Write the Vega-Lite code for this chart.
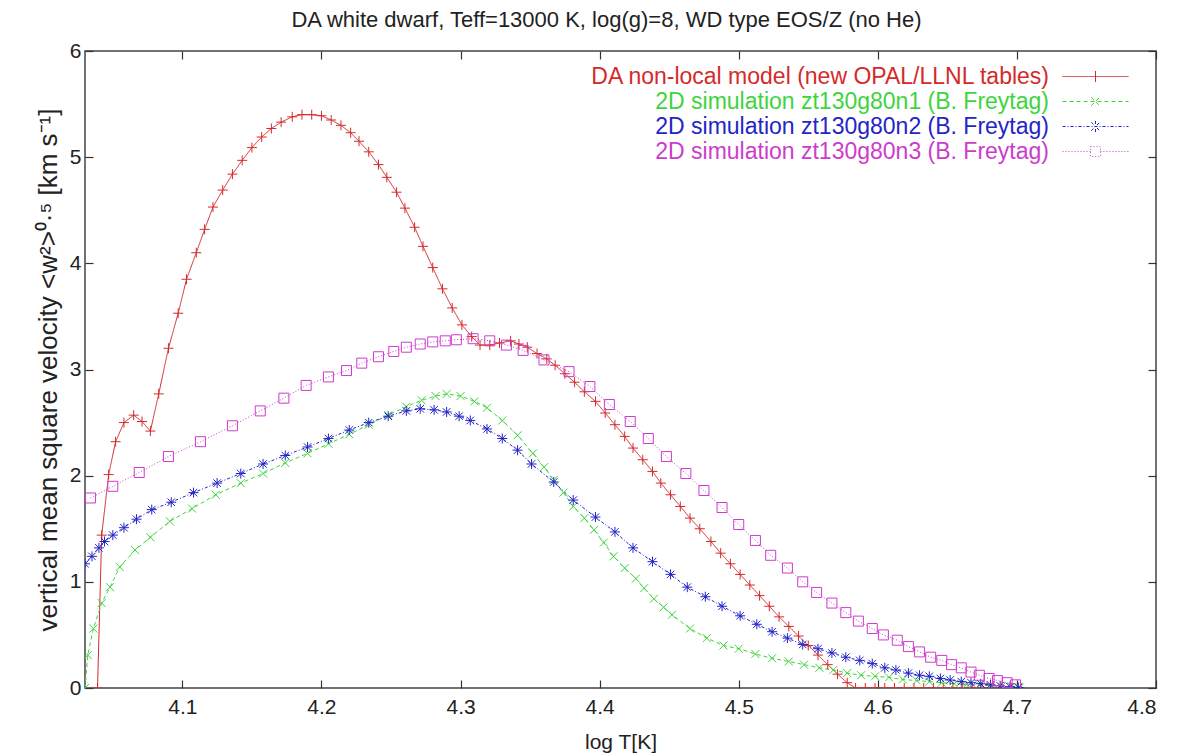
{
  "$schema": "https://vega.github.io/schema/vega-lite/v6.json",
  "width": 1071,
  "height": 637,
  "autosize": {"type": "none"},
  "padding": {"left": 85, "top": 51, "right": 26, "bottom": 68},
  "background": "white",
  "title": {
    "text": "DA white dwarf, Teff=13000 K, log(g)=8, WD type EOS/Z (no He)",
    "anchor": "middle",
    "frame": "group",
    "dx": -14,
    "baseline": "alphabetic",
    "offset": -9,
    "font": "Liberation Sans",
    "fontSize": 22,
    "fontWeight": "normal",
    "color": "#222"
  },
  "config": {
    "view": {"stroke": "#444", "strokeWidth": 1.5},
    "axis": {"grid": false, "domain": false, "labelFont": "Liberation Sans", "labelFontSize": 21, "labelColor": "#222", "titleFont": "Liberation Sans", "titleFontSize": 21, "titleFontWeight": "normal", "titleColor": "#222", "tickColor": "#333", "tickWidth": 1.2},
    "legend": {"labelFont": "Liberation Sans", "labelFontSize": 23}
  },
  "datasets": {
    "curves": [
      {"series": "DA non-local model (new OPAL/LLNL tables)", "x": 4.039, "y": 0},
      {"series": "DA non-local model (new OPAL/LLNL tables)", "x": 4.042, "y": 1.44},
      {"series": "DA non-local model (new OPAL/LLNL tables)", "x": 4.047, "y": 2.01},
      {"series": "DA non-local model (new OPAL/LLNL tables)", "x": 4.052, "y": 2.32},
      {"series": "DA non-local model (new OPAL/LLNL tables)", "x": 4.058, "y": 2.5},
      {"series": "DA non-local model (new OPAL/LLNL tables)", "x": 4.065, "y": 2.57},
      {"series": "DA non-local model (new OPAL/LLNL tables)", "x": 4.071, "y": 2.51},
      {"series": "DA non-local model (new OPAL/LLNL tables)", "x": 4.077, "y": 2.42},
      {"series": "DA non-local model (new OPAL/LLNL tables)", "x": 4.083, "y": 2.77},
      {"series": "DA non-local model (new OPAL/LLNL tables)", "x": 4.09, "y": 3.2},
      {"series": "DA non-local model (new OPAL/LLNL tables)", "x": 4.097, "y": 3.53},
      {"series": "DA non-local model (new OPAL/LLNL tables)", "x": 4.103, "y": 3.85},
      {"series": "DA non-local model (new OPAL/LLNL tables)", "x": 4.11, "y": 4.1},
      {"series": "DA non-local model (new OPAL/LLNL tables)", "x": 4.116, "y": 4.32},
      {"series": "DA non-local model (new OPAL/LLNL tables)", "x": 4.122, "y": 4.53},
      {"series": "DA non-local model (new OPAL/LLNL tables)", "x": 4.129, "y": 4.69},
      {"series": "DA non-local model (new OPAL/LLNL tables)", "x": 4.136, "y": 4.84},
      {"series": "DA non-local model (new OPAL/LLNL tables)", "x": 4.143, "y": 4.97},
      {"series": "DA non-local model (new OPAL/LLNL tables)", "x": 4.15, "y": 5.09},
      {"series": "DA non-local model (new OPAL/LLNL tables)", "x": 4.157, "y": 5.19},
      {"series": "DA non-local model (new OPAL/LLNL tables)", "x": 4.164, "y": 5.27},
      {"series": "DA non-local model (new OPAL/LLNL tables)", "x": 4.171, "y": 5.33},
      {"series": "DA non-local model (new OPAL/LLNL tables)", "x": 4.179, "y": 5.38},
      {"series": "DA non-local model (new OPAL/LLNL tables)", "x": 4.186, "y": 5.4},
      {"series": "DA non-local model (new OPAL/LLNL tables)", "x": 4.193, "y": 5.4},
      {"series": "DA non-local model (new OPAL/LLNL tables)", "x": 4.2, "y": 5.39},
      {"series": "DA non-local model (new OPAL/LLNL tables)", "x": 4.207, "y": 5.35},
      {"series": "DA non-local model (new OPAL/LLNL tables)", "x": 4.214, "y": 5.3},
      {"series": "DA non-local model (new OPAL/LLNL tables)", "x": 4.221, "y": 5.23},
      {"series": "DA non-local model (new OPAL/LLNL tables)", "x": 4.227, "y": 5.15},
      {"series": "DA non-local model (new OPAL/LLNL tables)", "x": 4.234, "y": 5.05},
      {"series": "DA non-local model (new OPAL/LLNL tables)", "x": 4.241, "y": 4.93},
      {"series": "DA non-local model (new OPAL/LLNL tables)", "x": 4.247, "y": 4.81},
      {"series": "DA non-local model (new OPAL/LLNL tables)", "x": 4.254, "y": 4.67},
      {"series": "DA non-local model (new OPAL/LLNL tables)", "x": 4.26, "y": 4.52},
      {"series": "DA non-local model (new OPAL/LLNL tables)", "x": 4.267, "y": 4.34},
      {"series": "DA non-local model (new OPAL/LLNL tables)", "x": 4.273, "y": 4.16},
      {"series": "DA non-local model (new OPAL/LLNL tables)", "x": 4.28, "y": 3.96},
      {"series": "DA non-local model (new OPAL/LLNL tables)", "x": 4.287, "y": 3.76},
      {"series": "DA non-local model (new OPAL/LLNL tables)", "x": 4.294, "y": 3.58},
      {"series": "DA non-local model (new OPAL/LLNL tables)", "x": 4.301, "y": 3.42},
      {"series": "DA non-local model (new OPAL/LLNL tables)", "x": 4.308, "y": 3.31},
      {"series": "DA non-local model (new OPAL/LLNL tables)", "x": 4.314, "y": 3.23},
      {"series": "DA non-local model (new OPAL/LLNL tables)", "x": 4.321, "y": 3.23},
      {"series": "DA non-local model (new OPAL/LLNL tables)", "x": 4.328, "y": 3.25},
      {"series": "DA non-local model (new OPAL/LLNL tables)", "x": 4.336, "y": 3.27},
      {"series": "DA non-local model (new OPAL/LLNL tables)", "x": 4.342, "y": 3.24},
      {"series": "DA non-local model (new OPAL/LLNL tables)", "x": 4.348, "y": 3.21},
      {"series": "DA non-local model (new OPAL/LLNL tables)", "x": 4.355, "y": 3.15},
      {"series": "DA non-local model (new OPAL/LLNL tables)", "x": 4.362, "y": 3.1},
      {"series": "DA non-local model (new OPAL/LLNL tables)", "x": 4.368, "y": 3.04},
      {"series": "DA non-local model (new OPAL/LLNL tables)", "x": 4.375, "y": 2.96},
      {"series": "DA non-local model (new OPAL/LLNL tables)", "x": 4.382, "y": 2.88},
      {"series": "DA non-local model (new OPAL/LLNL tables)", "x": 4.389, "y": 2.79},
      {"series": "DA non-local model (new OPAL/LLNL tables)", "x": 4.397, "y": 2.7},
      {"series": "DA non-local model (new OPAL/LLNL tables)", "x": 4.404, "y": 2.59},
      {"series": "DA non-local model (new OPAL/LLNL tables)", "x": 4.411, "y": 2.48},
      {"series": "DA non-local model (new OPAL/LLNL tables)", "x": 4.418, "y": 2.37},
      {"series": "DA non-local model (new OPAL/LLNL tables)", "x": 4.424, "y": 2.26},
      {"series": "DA non-local model (new OPAL/LLNL tables)", "x": 4.431, "y": 2.15},
      {"series": "DA non-local model (new OPAL/LLNL tables)", "x": 4.438, "y": 2.04},
      {"series": "DA non-local model (new OPAL/LLNL tables)", "x": 4.444, "y": 1.93},
      {"series": "DA non-local model (new OPAL/LLNL tables)", "x": 4.451, "y": 1.82},
      {"series": "DA non-local model (new OPAL/LLNL tables)", "x": 4.458, "y": 1.71},
      {"series": "DA non-local model (new OPAL/LLNL tables)", "x": 4.465, "y": 1.6},
      {"series": "DA non-local model (new OPAL/LLNL tables)", "x": 4.472, "y": 1.5},
      {"series": "DA non-local model (new OPAL/LLNL tables)", "x": 4.48, "y": 1.38},
      {"series": "DA non-local model (new OPAL/LLNL tables)", "x": 4.487, "y": 1.27},
      {"series": "DA non-local model (new OPAL/LLNL tables)", "x": 4.494, "y": 1.17},
      {"series": "DA non-local model (new OPAL/LLNL tables)", "x": 4.501, "y": 1.07},
      {"series": "DA non-local model (new OPAL/LLNL tables)", "x": 4.508, "y": 0.97},
      {"series": "DA non-local model (new OPAL/LLNL tables)", "x": 4.515, "y": 0.87},
      {"series": "DA non-local model (new OPAL/LLNL tables)", "x": 4.522, "y": 0.77},
      {"series": "DA non-local model (new OPAL/LLNL tables)", "x": 4.529, "y": 0.67},
      {"series": "DA non-local model (new OPAL/LLNL tables)", "x": 4.536, "y": 0.58},
      {"series": "DA non-local model (new OPAL/LLNL tables)", "x": 4.543, "y": 0.49},
      {"series": "DA non-local model (new OPAL/LLNL tables)", "x": 4.55, "y": 0.4},
      {"series": "DA non-local model (new OPAL/LLNL tables)", "x": 4.557, "y": 0.31},
      {"series": "DA non-local model (new OPAL/LLNL tables)", "x": 4.564, "y": 0.22},
      {"series": "DA non-local model (new OPAL/LLNL tables)", "x": 4.571, "y": 0.13},
      {"series": "DA non-local model (new OPAL/LLNL tables)", "x": 4.578, "y": 0.05},
      {"series": "DA non-local model (new OPAL/LLNL tables)", "x": 4.584, "y": 0.0},
      {"series": "DA non-local model (new OPAL/LLNL tables)", "x": 4.591, "y": 0.0},
      {"series": "DA non-local model (new OPAL/LLNL tables)", "x": 4.598, "y": 0.0},
      {"series": "DA non-local model (new OPAL/LLNL tables)", "x": 4.605, "y": 0.0},
      {"series": "DA non-local model (new OPAL/LLNL tables)", "x": 4.612, "y": 0.0},
      {"series": "DA non-local model (new OPAL/LLNL tables)", "x": 4.619, "y": 0.0},
      {"series": "DA non-local model (new OPAL/LLNL tables)", "x": 4.626, "y": 0.0},
      {"series": "DA non-local model (new OPAL/LLNL tables)", "x": 4.633, "y": 0.0},
      {"series": "DA non-local model (new OPAL/LLNL tables)", "x": 4.64, "y": 0.0},
      {"series": "DA non-local model (new OPAL/LLNL tables)", "x": 4.647, "y": 0.0},
      {"series": "DA non-local model (new OPAL/LLNL tables)", "x": 4.654, "y": 0.0},
      {"series": "DA non-local model (new OPAL/LLNL tables)", "x": 4.661, "y": 0.0},
      {"series": "DA non-local model (new OPAL/LLNL tables)", "x": 4.668, "y": 0.0},
      {"series": "DA non-local model (new OPAL/LLNL tables)", "x": 4.675, "y": 0.0},
      {"series": "DA non-local model (new OPAL/LLNL tables)", "x": 4.682, "y": 0.0},
      {"series": "DA non-local model (new OPAL/LLNL tables)", "x": 4.689, "y": 0.0},
      {"series": "DA non-local model (new OPAL/LLNL tables)", "x": 4.696, "y": 0.0},
      {"series": "DA non-local model (new OPAL/LLNL tables)", "x": 4.703, "y": 0.0},

      {"series": "2D simulation zt130g80n1 (B. Freytag)", "x": 4.03, "y": 0.0},
      {"series": "2D simulation zt130g80n1 (B. Freytag)", "x": 4.032, "y": 0.31},
      {"series": "2D simulation zt130g80n1 (B. Freytag)", "x": 4.036, "y": 0.56},
      {"series": "2D simulation zt130g80n1 (B. Freytag)", "x": 4.042, "y": 0.8},
      {"series": "2D simulation zt130g80n1 (B. Freytag)", "x": 4.048, "y": 0.95},
      {"series": "2D simulation zt130g80n1 (B. Freytag)", "x": 4.055, "y": 1.14},
      {"series": "2D simulation zt130g80n1 (B. Freytag)", "x": 4.066, "y": 1.3},
      {"series": "2D simulation zt130g80n1 (B. Freytag)", "x": 4.077, "y": 1.42},
      {"series": "2D simulation zt130g80n1 (B. Freytag)", "x": 4.091, "y": 1.57},
      {"series": "2D simulation zt130g80n1 (B. Freytag)", "x": 4.107, "y": 1.69},
      {"series": "2D simulation zt130g80n1 (B. Freytag)", "x": 4.124, "y": 1.82},
      {"series": "2D simulation zt130g80n1 (B. Freytag)", "x": 4.142, "y": 1.93},
      {"series": "2D simulation zt130g80n1 (B. Freytag)", "x": 4.158, "y": 2.02},
      {"series": "2D simulation zt130g80n1 (B. Freytag)", "x": 4.174, "y": 2.12},
      {"series": "2D simulation zt130g80n1 (B. Freytag)", "x": 4.19, "y": 2.21},
      {"series": "2D simulation zt130g80n1 (B. Freytag)", "x": 4.205, "y": 2.3},
      {"series": "2D simulation zt130g80n1 (B. Freytag)", "x": 4.22, "y": 2.39},
      {"series": "2D simulation zt130g80n1 (B. Freytag)", "x": 4.234, "y": 2.48},
      {"series": "2D simulation zt130g80n1 (B. Freytag)", "x": 4.248, "y": 2.57},
      {"series": "2D simulation zt130g80n1 (B. Freytag)", "x": 4.261, "y": 2.65},
      {"series": "2D simulation zt130g80n1 (B. Freytag)", "x": 4.272, "y": 2.71},
      {"series": "2D simulation zt130g80n1 (B. Freytag)", "x": 4.282, "y": 2.75},
      {"series": "2D simulation zt130g80n1 (B. Freytag)", "x": 4.29, "y": 2.77},
      {"series": "2D simulation zt130g80n1 (B. Freytag)", "x": 4.3, "y": 2.75},
      {"series": "2D simulation zt130g80n1 (B. Freytag)", "x": 4.31, "y": 2.7},
      {"series": "2D simulation zt130g80n1 (B. Freytag)", "x": 4.319, "y": 2.64},
      {"series": "2D simulation zt130g80n1 (B. Freytag)", "x": 4.33, "y": 2.52},
      {"series": "2D simulation zt130g80n1 (B. Freytag)", "x": 4.341, "y": 2.38},
      {"series": "2D simulation zt130g80n1 (B. Freytag)", "x": 4.352, "y": 2.21},
      {"series": "2D simulation zt130g80n1 (B. Freytag)", "x": 4.36, "y": 2.08},
      {"series": "2D simulation zt130g80n1 (B. Freytag)", "x": 4.367, "y": 1.96},
      {"series": "2D simulation zt130g80n1 (B. Freytag)", "x": 4.374, "y": 1.84},
      {"series": "2D simulation zt130g80n1 (B. Freytag)", "x": 4.381, "y": 1.71},
      {"series": "2D simulation zt130g80n1 (B. Freytag)", "x": 4.389, "y": 1.6},
      {"series": "2D simulation zt130g80n1 (B. Freytag)", "x": 4.396, "y": 1.49},
      {"series": "2D simulation zt130g80n1 (B. Freytag)", "x": 4.403, "y": 1.37},
      {"series": "2D simulation zt130g80n1 (B. Freytag)", "x": 4.41, "y": 1.24},
      {"series": "2D simulation zt130g80n1 (B. Freytag)", "x": 4.418, "y": 1.13},
      {"series": "2D simulation zt130g80n1 (B. Freytag)", "x": 4.426, "y": 1.03},
      {"series": "2D simulation zt130g80n1 (B. Freytag)", "x": 4.432, "y": 0.94},
      {"series": "2D simulation zt130g80n1 (B. Freytag)", "x": 4.439, "y": 0.84},
      {"series": "2D simulation zt130g80n1 (B. Freytag)", "x": 4.446, "y": 0.76},
      {"series": "2D simulation zt130g80n1 (B. Freytag)", "x": 4.452, "y": 0.69},
      {"series": "2D simulation zt130g80n1 (B. Freytag)", "x": 4.465, "y": 0.56},
      {"series": "2D simulation zt130g80n1 (B. Freytag)", "x": 4.477, "y": 0.47},
      {"series": "2D simulation zt130g80n1 (B. Freytag)", "x": 4.489, "y": 0.4},
      {"series": "2D simulation zt130g80n1 (B. Freytag)", "x": 4.5, "y": 0.37},
      {"series": "2D simulation zt130g80n1 (B. Freytag)", "x": 4.512, "y": 0.32},
      {"series": "2D simulation zt130g80n1 (B. Freytag)", "x": 4.524, "y": 0.28},
      {"series": "2D simulation zt130g80n1 (B. Freytag)", "x": 4.536, "y": 0.25},
      {"series": "2D simulation zt130g80n1 (B. Freytag)", "x": 4.547, "y": 0.22},
      {"series": "2D simulation zt130g80n1 (B. Freytag)", "x": 4.558, "y": 0.19},
      {"series": "2D simulation zt130g80n1 (B. Freytag)", "x": 4.568, "y": 0.17},
      {"series": "2D simulation zt130g80n1 (B. Freytag)", "x": 4.578, "y": 0.14},
      {"series": "2D simulation zt130g80n1 (B. Freytag)", "x": 4.588, "y": 0.12},
      {"series": "2D simulation zt130g80n1 (B. Freytag)", "x": 4.598, "y": 0.11},
      {"series": "2D simulation zt130g80n1 (B. Freytag)", "x": 4.608, "y": 0.1},
      {"series": "2D simulation zt130g80n1 (B. Freytag)", "x": 4.618, "y": 0.08},
      {"series": "2D simulation zt130g80n1 (B. Freytag)", "x": 4.628, "y": 0.07},
      {"series": "2D simulation zt130g80n1 (B. Freytag)", "x": 4.637, "y": 0.06},
      {"series": "2D simulation zt130g80n1 (B. Freytag)", "x": 4.646, "y": 0.05},
      {"series": "2D simulation zt130g80n1 (B. Freytag)", "x": 4.655, "y": 0.04},
      {"series": "2D simulation zt130g80n1 (B. Freytag)", "x": 4.664, "y": 0.035},
      {"series": "2D simulation zt130g80n1 (B. Freytag)", "x": 4.673, "y": 0.03},
      {"series": "2D simulation zt130g80n1 (B. Freytag)", "x": 4.681, "y": 0.02},
      {"series": "2D simulation zt130g80n1 (B. Freytag)", "x": 4.689, "y": 0.015},
      {"series": "2D simulation zt130g80n1 (B. Freytag)", "x": 4.696, "y": 0.01},
      {"series": "2D simulation zt130g80n1 (B. Freytag)", "x": 4.702, "y": 0.005},

      {"series": "2D simulation zt130g80n2 (B. Freytag)", "x": 4.03, "y": 1.17},
      {"series": "2D simulation zt130g80n2 (B. Freytag)", "x": 4.035, "y": 1.24},
      {"series": "2D simulation zt130g80n2 (B. Freytag)", "x": 4.04, "y": 1.32},
      {"series": "2D simulation zt130g80n2 (B. Freytag)", "x": 4.044, "y": 1.38},
      {"series": "2D simulation zt130g80n2 (B. Freytag)", "x": 4.05, "y": 1.44},
      {"series": "2D simulation zt130g80n2 (B. Freytag)", "x": 4.058, "y": 1.51},
      {"series": "2D simulation zt130g80n2 (B. Freytag)", "x": 4.067, "y": 1.59},
      {"series": "2D simulation zt130g80n2 (B. Freytag)", "x": 4.078, "y": 1.68},
      {"series": "2D simulation zt130g80n2 (B. Freytag)", "x": 4.092, "y": 1.75},
      {"series": "2D simulation zt130g80n2 (B. Freytag)", "x": 4.108, "y": 1.84},
      {"series": "2D simulation zt130g80n2 (B. Freytag)", "x": 4.125, "y": 1.93},
      {"series": "2D simulation zt130g80n2 (B. Freytag)", "x": 4.142, "y": 2.02},
      {"series": "2D simulation zt130g80n2 (B. Freytag)", "x": 4.158, "y": 2.11},
      {"series": "2D simulation zt130g80n2 (B. Freytag)", "x": 4.174, "y": 2.19},
      {"series": "2D simulation zt130g80n2 (B. Freytag)", "x": 4.19, "y": 2.27},
      {"series": "2D simulation zt130g80n2 (B. Freytag)", "x": 4.205, "y": 2.35},
      {"series": "2D simulation zt130g80n2 (B. Freytag)", "x": 4.22, "y": 2.43},
      {"series": "2D simulation zt130g80n2 (B. Freytag)", "x": 4.234, "y": 2.5},
      {"series": "2D simulation zt130g80n2 (B. Freytag)", "x": 4.248, "y": 2.56},
      {"series": "2D simulation zt130g80n2 (B. Freytag)", "x": 4.261, "y": 2.61},
      {"series": "2D simulation zt130g80n2 (B. Freytag)", "x": 4.271, "y": 2.63},
      {"series": "2D simulation zt130g80n2 (B. Freytag)", "x": 4.281, "y": 2.62},
      {"series": "2D simulation zt130g80n2 (B. Freytag)", "x": 4.29, "y": 2.6},
      {"series": "2D simulation zt130g80n2 (B. Freytag)", "x": 4.299, "y": 2.56},
      {"series": "2D simulation zt130g80n2 (B. Freytag)", "x": 4.307, "y": 2.52},
      {"series": "2D simulation zt130g80n2 (B. Freytag)", "x": 4.319, "y": 2.44},
      {"series": "2D simulation zt130g80n2 (B. Freytag)", "x": 4.33, "y": 2.35},
      {"series": "2D simulation zt130g80n2 (B. Freytag)", "x": 4.341, "y": 2.24},
      {"series": "2D simulation zt130g80n2 (B. Freytag)", "x": 4.351, "y": 2.11},
      {"series": "2D simulation zt130g80n2 (B. Freytag)", "x": 4.367, "y": 1.94},
      {"series": "2D simulation zt130g80n2 (B. Freytag)", "x": 4.381, "y": 1.77},
      {"series": "2D simulation zt130g80n2 (B. Freytag)", "x": 4.397, "y": 1.61},
      {"series": "2D simulation zt130g80n2 (B. Freytag)", "x": 4.411, "y": 1.47},
      {"series": "2D simulation zt130g80n2 (B. Freytag)", "x": 4.424, "y": 1.32},
      {"series": "2D simulation zt130g80n2 (B. Freytag)", "x": 4.438, "y": 1.19},
      {"series": "2D simulation zt130g80n2 (B. Freytag)", "x": 4.451, "y": 1.07},
      {"series": "2D simulation zt130g80n2 (B. Freytag)", "x": 4.463, "y": 0.95},
      {"series": "2D simulation zt130g80n2 (B. Freytag)", "x": 4.476, "y": 0.86},
      {"series": "2D simulation zt130g80n2 (B. Freytag)", "x": 4.488, "y": 0.77},
      {"series": "2D simulation zt130g80n2 (B. Freytag)", "x": 4.501, "y": 0.68},
      {"series": "2D simulation zt130g80n2 (B. Freytag)", "x": 4.513, "y": 0.6},
      {"series": "2D simulation zt130g80n2 (B. Freytag)", "x": 4.524, "y": 0.53},
      {"series": "2D simulation zt130g80n2 (B. Freytag)", "x": 4.535, "y": 0.47},
      {"series": "2D simulation zt130g80n2 (B. Freytag)", "x": 4.546, "y": 0.41},
      {"series": "2D simulation zt130g80n2 (B. Freytag)", "x": 4.557, "y": 0.37},
      {"series": "2D simulation zt130g80n2 (B. Freytag)", "x": 4.567, "y": 0.33},
      {"series": "2D simulation zt130g80n2 (B. Freytag)", "x": 4.577, "y": 0.29},
      {"series": "2D simulation zt130g80n2 (B. Freytag)", "x": 4.587, "y": 0.26},
      {"series": "2D simulation zt130g80n2 (B. Freytag)", "x": 4.596, "y": 0.23},
      {"series": "2D simulation zt130g80n2 (B. Freytag)", "x": 4.605, "y": 0.19},
      {"series": "2D simulation zt130g80n2 (B. Freytag)", "x": 4.613, "y": 0.17},
      {"series": "2D simulation zt130g80n2 (B. Freytag)", "x": 4.622, "y": 0.14},
      {"series": "2D simulation zt130g80n2 (B. Freytag)", "x": 4.63, "y": 0.12},
      {"series": "2D simulation zt130g80n2 (B. Freytag)", "x": 4.637, "y": 0.11},
      {"series": "2D simulation zt130g80n2 (B. Freytag)", "x": 4.645, "y": 0.09},
      {"series": "2D simulation zt130g80n2 (B. Freytag)", "x": 4.652, "y": 0.075},
      {"series": "2D simulation zt130g80n2 (B. Freytag)", "x": 4.66, "y": 0.06},
      {"series": "2D simulation zt130g80n2 (B. Freytag)", "x": 4.667, "y": 0.05},
      {"series": "2D simulation zt130g80n2 (B. Freytag)", "x": 4.674, "y": 0.04},
      {"series": "2D simulation zt130g80n2 (B. Freytag)", "x": 4.681, "y": 0.03},
      {"series": "2D simulation zt130g80n2 (B. Freytag)", "x": 4.688, "y": 0.02},
      {"series": "2D simulation zt130g80n2 (B. Freytag)", "x": 4.695, "y": 0.012},
      {"series": "2D simulation zt130g80n2 (B. Freytag)", "x": 4.701, "y": 0.005},

      {"series": "2D simulation zt130g80n3 (B. Freytag)", "x": 4.034, "y": 1.79},
      {"series": "2D simulation zt130g80n3 (B. Freytag)", "x": 4.05, "y": 1.9},
      {"series": "2D simulation zt130g80n3 (B. Freytag)", "x": 4.069, "y": 2.03},
      {"series": "2D simulation zt130g80n3 (B. Freytag)", "x": 4.09, "y": 2.18},
      {"series": "2D simulation zt130g80n3 (B. Freytag)", "x": 4.113, "y": 2.32},
      {"series": "2D simulation zt130g80n3 (B. Freytag)", "x": 4.136, "y": 2.47},
      {"series": "2D simulation zt130g80n3 (B. Freytag)", "x": 4.156, "y": 2.61},
      {"series": "2D simulation zt130g80n3 (B. Freytag)", "x": 4.173, "y": 2.73},
      {"series": "2D simulation zt130g80n3 (B. Freytag)", "x": 4.189, "y": 2.85},
      {"series": "2D simulation zt130g80n3 (B. Freytag)", "x": 4.205, "y": 2.93},
      {"series": "2D simulation zt130g80n3 (B. Freytag)", "x": 4.218, "y": 2.99},
      {"series": "2D simulation zt130g80n3 (B. Freytag)", "x": 4.229, "y": 3.06},
      {"series": "2D simulation zt130g80n3 (B. Freytag)", "x": 4.241, "y": 3.12},
      {"series": "2D simulation zt130g80n3 (B. Freytag)", "x": 4.252, "y": 3.17},
      {"series": "2D simulation zt130g80n3 (B. Freytag)", "x": 4.261, "y": 3.21},
      {"series": "2D simulation zt130g80n3 (B. Freytag)", "x": 4.271, "y": 3.24},
      {"series": "2D simulation zt130g80n3 (B. Freytag)", "x": 4.28, "y": 3.26},
      {"series": "2D simulation zt130g80n3 (B. Freytag)", "x": 4.289, "y": 3.27},
      {"series": "2D simulation zt130g80n3 (B. Freytag)", "x": 4.297, "y": 3.28},
      {"series": "2D simulation zt130g80n3 (B. Freytag)", "x": 4.309, "y": 3.29},
      {"series": "2D simulation zt130g80n3 (B. Freytag)", "x": 4.321, "y": 3.27},
      {"series": "2D simulation zt130g80n3 (B. Freytag)", "x": 4.333, "y": 3.23},
      {"series": "2D simulation zt130g80n3 (B. Freytag)", "x": 4.345, "y": 3.18},
      {"series": "2D simulation zt130g80n3 (B. Freytag)", "x": 4.36, "y": 3.09},
      {"series": "2D simulation zt130g80n3 (B. Freytag)", "x": 4.378, "y": 2.98},
      {"series": "2D simulation zt130g80n3 (B. Freytag)", "x": 4.393, "y": 2.84},
      {"series": "2D simulation zt130g80n3 (B. Freytag)", "x": 4.407, "y": 2.67},
      {"series": "2D simulation zt130g80n3 (B. Freytag)", "x": 4.422, "y": 2.51},
      {"series": "2D simulation zt130g80n3 (B. Freytag)", "x": 4.435, "y": 2.35},
      {"series": "2D simulation zt130g80n3 (B. Freytag)", "x": 4.448, "y": 2.18},
      {"series": "2D simulation zt130g80n3 (B. Freytag)", "x": 4.462, "y": 2.02},
      {"series": "2D simulation zt130g80n3 (B. Freytag)", "x": 4.475, "y": 1.86},
      {"series": "2D simulation zt130g80n3 (B. Freytag)", "x": 4.488, "y": 1.7},
      {"series": "2D simulation zt130g80n3 (B. Freytag)", "x": 4.5, "y": 1.54},
      {"series": "2D simulation zt130g80n3 (B. Freytag)", "x": 4.512, "y": 1.39},
      {"series": "2D simulation zt130g80n3 (B. Freytag)", "x": 4.523, "y": 1.25},
      {"series": "2D simulation zt130g80n3 (B. Freytag)", "x": 4.535, "y": 1.13},
      {"series": "2D simulation zt130g80n3 (B. Freytag)", "x": 4.546, "y": 1.0},
      {"series": "2D simulation zt130g80n3 (B. Freytag)", "x": 4.556, "y": 0.9},
      {"series": "2D simulation zt130g80n3 (B. Freytag)", "x": 4.567, "y": 0.8},
      {"series": "2D simulation zt130g80n3 (B. Freytag)", "x": 4.577, "y": 0.71},
      {"series": "2D simulation zt130g80n3 (B. Freytag)", "x": 4.586, "y": 0.63},
      {"series": "2D simulation zt130g80n3 (B. Freytag)", "x": 4.596, "y": 0.56},
      {"series": "2D simulation zt130g80n3 (B. Freytag)", "x": 4.604, "y": 0.5},
      {"series": "2D simulation zt130g80n3 (B. Freytag)", "x": 4.614, "y": 0.45},
      {"series": "2D simulation zt130g80n3 (B. Freytag)", "x": 4.622, "y": 0.39},
      {"series": "2D simulation zt130g80n3 (B. Freytag)", "x": 4.63, "y": 0.34},
      {"series": "2D simulation zt130g80n3 (B. Freytag)", "x": 4.638, "y": 0.29},
      {"series": "2D simulation zt130g80n3 (B. Freytag)", "x": 4.646, "y": 0.26},
      {"series": "2D simulation zt130g80n3 (B. Freytag)", "x": 4.653, "y": 0.22},
      {"series": "2D simulation zt130g80n3 (B. Freytag)", "x": 4.66, "y": 0.19},
      {"series": "2D simulation zt130g80n3 (B. Freytag)", "x": 4.667, "y": 0.15},
      {"series": "2D simulation zt130g80n3 (B. Freytag)", "x": 4.673, "y": 0.12},
      {"series": "2D simulation zt130g80n3 (B. Freytag)", "x": 4.68, "y": 0.09},
      {"series": "2D simulation zt130g80n3 (B. Freytag)", "x": 4.686, "y": 0.07},
      {"series": "2D simulation zt130g80n3 (B. Freytag)", "x": 4.693, "y": 0.05},
      {"series": "2D simulation zt130g80n3 (B. Freytag)", "x": 4.699, "y": 0.03}
    ]
  },
  "data": {"name": "curves"},
  "resolve": {"axis": {"x": "independent", "y": "independent"}},
  "layer": [
    {
      "mark": {"type": "line", "strokeWidth": 1, "clip": true},
      "encoding": {
        "x": {"field": "x", "type": "quantitative", "scale": {"domain": [4.03, 4.8], "nice": false, "zero": false},
              "axis": {"orient": "bottom", "values": [4.1, 4.2, 4.3, 4.4, 4.5, 4.6, 4.7, 4.8], "format": ".1f", "tickSize": -8, "labelPadding": 16, "title": "log T[K]", "titlePadding": 14}},
        "y": {"field": "y", "type": "quantitative", "scale": {"domain": [0, 6], "nice": false},
              "axis": {"orient": "left", "values": [0, 1, 2, 3, 4, 5, 6], "format": "d", "tickSize": -8, "labelPadding": 12, "title": "vertical mean square velocity <w²>⁰·⁵ [km s⁻¹]", "titleFontSize": 26, "titlePadding": 8}},
        "color": {"field": "series", "type": "nominal",
          "scale": {"domain": ["DA non-local model (new OPAL/LLNL tables)", "2D simulation zt130g80n1 (B. Freytag)", "2D simulation zt130g80n2 (B. Freytag)", "2D simulation zt130g80n3 (B. Freytag)"],
                    "range": ["#d42a2a", "#3ed43e", "#2424c8", "#cc3ccc"]},
          "legend": {"orient": "none", "legendX": 999, "legendY": 14, "title": null, "padding": 0, "symbolSize": 484, "symbolStrokeWidth": 1, "symbolType": "stroke", "labelAlign": "right", "labelOffset": -58, "labelLimit": 700, "labelFontSize": 23, "rowPadding": 1,
            "encode": {
              "symbols": {"update": {
                "shape": {"signal": "['M-3,0H3M0,-0.5V0.5', 'M-3,0H3M-0.4,-0.4L0.4,0.4M-0.4,0.4L0.4,-0.4', 'M-3,0H3M0,-0.5V0.5M-0.38,-0.38L0.38,0.38M-0.38,0.38L0.38,-0.38', 'M-3,0H-0.45M0.45,0H3M-0.45,-0.45H0.45V0.45H-0.45Z'][indexof(domain('color'), datum.value)]"},
                "strokeDash": {"signal": "[[1,0],[4,3],[3,2,1,2],[1,2]][indexof(domain('color'), datum.value)]"},
                "stroke": {"signal": "scale('color', datum.value)"},
                "fill": {"value": "transparent"}
              }},
              "labels": {"update": {"fill": {"signal": "scale('color', datum.value)"}}}
            }}
        },
        "strokeDash": {"field": "series", "type": "nominal",
          "scale": {"domain": ["DA non-local model (new OPAL/LLNL tables)", "2D simulation zt130g80n1 (B. Freytag)", "2D simulation zt130g80n2 (B. Freytag)", "2D simulation zt130g80n3 (B. Freytag)"],
                    "range": [[1, 0], [4, 3], [3, 2, 1, 2], [1, 2]]},
          "legend": null}
      }
    },
    {
      "transform": [{"filter": "datum.series === 'DA non-local model (new OPAL/LLNL tables)'"}],
      "mark": {"type": "point", "shape": "M-1,0H1M0,-1V1", "filled": false, "size": 100, "strokeWidth": 1, "opacity": 1, "clip": true},
      "encoding": {
        "x": {"field": "x", "type": "quantitative", "axis": {"orient": "top", "values": [4.1, 4.2, 4.3, 4.4, 4.5, 4.6, 4.7, 4.8], "labels": false, "tickSize": -8, "title": null}},
        "y": {"field": "y", "type": "quantitative", "axis": {"orient": "right", "values": [0, 1, 2, 3, 4, 5, 6], "labels": false, "tickSize": -8, "title": null}},
        "color": {"field": "series", "type": "nominal", "legend": null}
      }
    },
    {
      "transform": [{"filter": "datum.series === '2D simulation zt130g80n1 (B. Freytag)'"}],
      "mark": {"type": "point", "shape": "M-0.8,-0.8L0.8,0.8M-0.8,0.8L0.8,-0.8", "filled": false, "size": 100, "strokeWidth": 1, "opacity": 1, "clip": true},
      "encoding": {
        "x": {"field": "x", "type": "quantitative", "axis": null},
        "y": {"field": "y", "type": "quantitative", "axis": null},
        "color": {"field": "series", "type": "nominal", "legend": null}
      }
    },
    {
      "transform": [{"filter": "datum.series === '2D simulation zt130g80n2 (B. Freytag)'"}],
      "mark": {"type": "point", "shape": "M-1,0H1M0,-1V1M-0.75,-0.75L0.75,0.75M-0.75,0.75L0.75,-0.75", "filled": false, "size": 100, "strokeWidth": 1, "opacity": 1, "clip": true},
      "encoding": {
        "x": {"field": "x", "type": "quantitative", "axis": null},
        "y": {"field": "y", "type": "quantitative", "axis": null},
        "color": {"field": "series", "type": "nominal", "legend": null}
      }
    },
    {
      "transform": [{"filter": "datum.series === '2D simulation zt130g80n3 (B. Freytag)'"}],
      "mark": {"type": "point", "shape": "M-1,-1H1V1H-1Z", "filled": false, "size": 100, "strokeWidth": 1, "opacity": 1, "clip": true},
      "encoding": {
        "x": {"field": "x", "type": "quantitative", "axis": null},
        "y": {"field": "y", "type": "quantitative", "axis": null},
        "color": {"field": "series", "type": "nominal", "legend": null}
      }
    }
  ]
}
